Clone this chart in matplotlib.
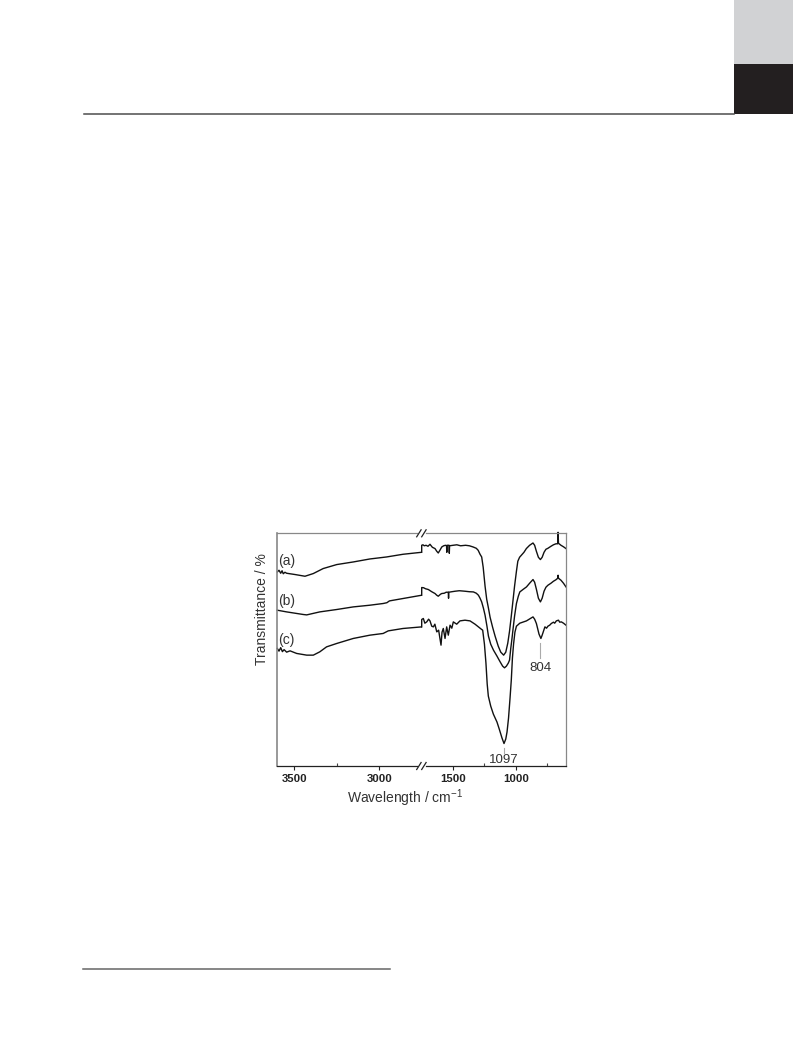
import matplotlib
matplotlib.use("Agg")
import matplotlib.pyplot as plt
from matplotlib.patches import Rectangle
from matplotlib.lines import Line2D
from matplotlib.ticker import FixedLocator, NullLocator

plt.rcParams['font.family'] = ['Liberation Sans', 'DejaVu Sans']

# ---------------- data (wavenumber / cm-1, transmittance in arbitrary units) -------------
# left segment (3600 - 2750 cm-1)
a_left_x = [3600, 3590, 3580, 3572, 3565, 3555, 3545, 3495, 3437, 3388, 3330, 3250, 3153, 3055, 2957, 2860, 2750]
a_left_y = [194.3, 196, 193, 195.5, 192.5, 194, 193, 191.7, 190, 192.7, 197.7, 201.7, 204.3, 207.3, 209.3, 212, 214]

b_left_x = [3600, 3545, 3447, 3427, 3350, 3250, 3153, 3055, 2977, 2955, 2940, 2860, 2750]
b_left_y = [156, 154.3, 151.7, 151.3, 154.3, 156.7, 159.3, 161, 162.7, 163.5, 165.3, 167.7, 171]

c_left_x = [3600, 3590, 3580, 3570, 3560, 3545, 3525, 3486, 3427, 3388, 3350, 3310, 3250, 3153, 3055, 2977, 2947, 2860, 2750]
c_left_y = [117.7, 115, 118.5, 114.5, 116.5, 114, 115.3, 112.7, 111, 111, 114.3, 119.3, 122.7, 127.7, 131, 132.7, 135.3, 137.7, 139.3]

# right segment (1750 - 600 cm-1); first point is the step up from the left segment at the break
a_right_x = [1750, 1750, 1740, 1730, 1715, 1700, 1684, 1665, 1644, 1630, 1618, 1605, 1590, 1575, 1560, 1552, 1550, 1548,
             1532, 1530, 1528, 1500, 1470, 1440, 1400, 1370, 1340, 1315, 1300, 1285, 1272, 1260, 1245,
             1232, 1218, 1205, 1185, 1165, 1140, 1120, 1097, 1080, 1064, 1050, 1037, 1023, 1010, 995, 984, 970, 956,
             935, 916, 890, 863, 850, 836, 820, 804, 790, 775, 760, 744, 720, 700, 680, 666, 663, 660, 640, 620, 600]
a_right_y = [214, 221, 221.5, 220.5, 221, 220, 222, 219, 217.7, 215, 213.3, 216, 219.3, 220.5, 221, 220.5, 214, 221,
             221, 213, 220.5, 221, 221.5, 220.5, 221, 220.5, 219.3, 218, 216, 212, 209.3, 199, 180,
             167, 158, 149, 139, 130, 120, 114, 111, 114, 123, 135, 149, 165, 180, 195, 205, 209, 211,
             214, 217.7, 221, 223.3, 221, 215, 209, 206.7, 209, 214, 217, 218, 220, 221.5, 222.5, 222.5, 234, 223, 221, 219.5, 217.7]

b_right_x = [1750, 1750, 1735, 1720, 1697, 1670, 1644, 1630, 1618, 1600, 1590, 1570, 1555, 1538, 1536, 1534,
             1510, 1484, 1450, 1405, 1370, 1338, 1315, 1298, 1285, 1272, 1258, 1245, 1230, 1218, 1200,
             1178, 1150, 1125, 1105, 1090, 1075, 1060, 1050, 1040, 1032, 1023, 1010, 995, 980, 968, 940, 915, 890,
             863, 850, 836, 820, 804, 790, 775, 760, 744, 720, 700, 680, 666, 663, 660, 640, 620, 600]
b_right_y = [171, 178.7, 178.5, 177.5, 176.7, 174.5, 172.7, 171, 170, 172, 172.7, 173, 174, 174, 168, 174,
             174.5, 175, 175.5, 175, 174.5, 174.3, 173, 171, 168, 164.3, 158, 151, 140, 130, 122,
             116, 110, 104.3, 100, 98.3, 100, 103, 106, 118, 126, 136, 150, 162.7, 170, 174.3, 177, 179.3, 183,
             186.7, 184, 177, 168, 164.3, 168, 175, 179, 181, 183, 185, 186.5, 188, 191, 188, 186, 183, 179.3]

c_right_x = [1750, 1750, 1737, 1725, 1710, 1695, 1684, 1670, 1657, 1645, 1630, 1615, 1605, 1596, 1588, 1578, 1564,
             1551, 1538, 1524, 1510, 1498, 1471, 1445, 1405, 1365, 1325, 1298, 1285, 1272, 1264, 1250, 1238, 1228,
             1219, 1200, 1179, 1150, 1132, 1110, 1094, 1080, 1070, 1058, 1046, 1036, 1027, 1018, 1007, 995, 968,
             915, 880, 863, 850, 836, 815, 800, 790, 768, 755, 744, 730, 717, 700, 690, 677, 660, 650, 637, 620, 600]
c_right_y = [139.3, 146.7, 147.7, 143, 144.3, 147, 145.3, 140, 139.3, 142, 134.3, 136, 128, 121, 134, 137.7, 127.7,
             139.3, 131, 141, 138, 144.3, 142, 145.3, 146, 145.3, 142, 139.3, 138, 136.7, 136, 122, 103, 82,
             70, 60, 52, 44, 37, 28, 22.5, 27, 34, 48, 68, 86, 108, 122, 134, 140, 143,
             145.3, 148, 149.3, 147, 142.7, 132, 127.7, 131, 139.3, 138, 140, 141, 142.7, 144, 143, 145.3, 146, 144, 144.3, 143, 141]

labels = ['(a)', '(b)', '(c)']
left_ticks = [3500, 3000]
left_minor = [3250]
right_ticks = [1500, 1000]
right_minor = [1250, 750]
left_range = (3600, 2750)
right_range = (1750, 600)
peak_labels = [1097, 804]

# ---------------- figure ----------------
W, H = 793, 1057
fig = plt.figure(figsize=(W / 100, H / 100), dpi=100)


def fx(x):
    return x / W


def fy(y):
    return 1 - y / H


# page decorations
fig.add_artist(Rectangle((fx(734), fy(64)), 1 - fx(734), 1 - fy(64), transform=fig.transFigure,
                         facecolor='#d1d2d4', edgecolor='none'))
fig.add_artist(Rectangle((fx(734), fy(113.5)), 1 - fx(734), fy(64) - fy(113.5), transform=fig.transFigure,
                         facecolor='#231f20', edgecolor='none'))
fig.add_artist(Line2D([fx(84), fx(734)], [fy(113.5), fy(113.5)], transform=fig.transFigure,
                      color='#4d4d4d', lw=1.1))
fig.add_artist(Line2D([fx(83), fx(390)], [fy(969), fy(969)], transform=fig.transFigure,
                      color='#666666', lw=1.1))

ax_l, ax_r, ax_b, ax_t = 277.3, 566.0, 766.0, 533.3
brk = 421.7
bottom = fy(ax_b)
height = fy(ax_t) - fy(ax_b)
axL = fig.add_axes([fx(ax_l), bottom, fx(brk) - fx(ax_l), height])
axR = fig.add_axes([fx(brk), bottom, fx(ax_r) - fx(brk), height])

curve_kw = dict(color='#111111', lw=1.0, clip_on=False)
axL.plot(a_left_x, a_left_y, **curve_kw)
axL.plot(b_left_x, b_left_y, **curve_kw)
axL.plot(c_left_x, c_left_y, **curve_kw)
axR.plot(a_right_x, a_right_y, **curve_kw)
axR.plot(b_right_x, b_right_y, **curve_kw)
axR.plot(c_right_x, c_right_y, **curve_kw)

for ax, rng in ((axL, left_range), (axR, right_range)):
    ax.set_xlim(*rng)
    ax.set_ylim(0, 233)
    ax.yaxis.set_major_locator(NullLocator())
    ax.spines['top'].set_color('#888888')
    ax.spines['top'].set_linewidth(0.9)
    ax.spines['bottom'].set_color('#222222')
    ax.spines['bottom'].set_linewidth(0.9)
    ax.tick_params(axis='x', which='major', direction='out', length=3, width=0.8,
                   labelsize=8.2, pad=2.5, colors='#222222')
    ax.tick_params(axis='x', which='minor', direction='in', length=2, width=0.8, colors='#444444')

axL.xaxis.set_major_locator(FixedLocator(left_ticks))
axL.xaxis.set_minor_locator(FixedLocator(left_minor))
axR.xaxis.set_major_locator(FixedLocator(right_ticks))
axR.xaxis.set_minor_locator(FixedLocator(right_minor))
for ax in (axL, axR):
    for lab in ax.get_xticklabels():
        lab.set_fontweight('bold')

axL.spines['right'].set_visible(False)
axR.spines['left'].set_visible(False)
axL.spines['left'].set_color('#888888')
axL.spines['left'].set_linewidth(1.2)
axR.spines['right'].set_color('#888888')
axR.spines['right'].set_linewidth(0.9)

# gaps in the spines at the break
gap = 4.5
sl = (left_range[0] - left_range[1]) / (brk - ax_l)
sr = (right_range[0] - right_range[1]) / (ax_r - brk)
for side in ('top', 'bottom'):
    axL.spines[side].set_bounds(left_range[0], left_range[1] + gap * sl)
    axR.spines[side].set_bounds(right_range[0] - gap * sr, right_range[1])

# break marks //
for yb in (ax_b, ax_t):
    for dx in (-2.8, 2.2):
        xc = brk + dx
        fig.add_artist(Line2D([fx(xc - 2.2), fx(xc + 2.2)], [fy(yb + 3.5), fy(yb - 3.5)],
                              transform=fig.transFigure, color='#222222', lw=0.9))

# peak markers
axR.plot([peak_labels[1], peak_labels[1]], [108, 123], color='#aaaaaa', lw=0.8)
axR.text(peak_labels[1], 98, str(peak_labels[1]), ha='center', va='center', fontsize=9.5, color='#333333')
axR.plot([peak_labels[0], peak_labels[0]], [13, 18], color='#aaaaaa', lw=0.8)
axR.text(peak_labels[0], 6, str(peak_labels[0]), ha='center', va='center', fontsize=9.5, color='#333333')

# curve labels
for lab, yp in zip(labels, (560.7, 600.7, 640.0)):
    fig.text(fx(277.8), fy(yp), lab, ha='left', va='center', fontsize=10, color='#333333')

# axis labels
fig.text(fx(405), fy(798), 'Wavelength / cm$^{\\mathregular{-1}}$', ha='center', va='center',
         fontsize=10, color='#333333')
fig.text(fx(261.7), fy(609), 'Transmittance / %', ha='center', va='center', rotation=90,
         fontsize=10, color='#333333')

fig.savefig('out.png', dpi=100)
